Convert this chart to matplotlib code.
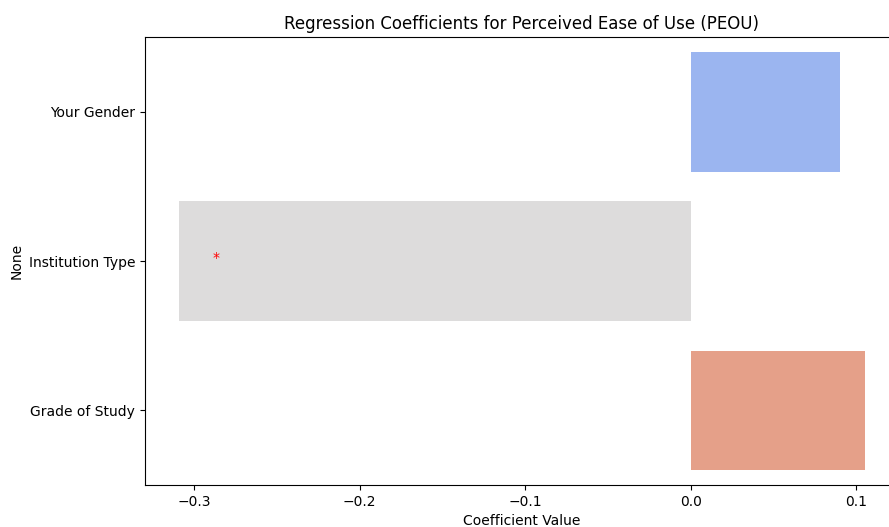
import matplotlib
matplotlib.use("Agg")
from matplotlib import pyplot as plt
import seaborn as sns
import pandas as pd

# regression results for PEOU
features = ["Your Gender", "Institution Type", "Grade of Study"]
coefs = [0.09, -0.309, 0.105]
significant = [False, True, False]


def main():
    df = pd.DataFrame({"feature": features, "coef": coefs})

    fig = plt.figure(figsize=(8.89, 5.27), dpi=100)
    ax = fig.add_axes([0.1631, 0.0795, 0.848, 0.850])

    sns.barplot(data=df, x="coef", y="feature", hue="feature",
                palette="coolwarm", legend=False, ax=ax)

    # mark significant coefficients
    for i, (c, sig) in enumerate(zip(coefs, significant)):
        if sig:
            ax.text(c + 0.022, i - 0.02, "*", color="red", ha="center", va="center", fontsize=10)

    ax.set_title("Regression Coefficients for Perceived Ease of Use (PEOU)")
    ax.set_xlabel("Coefficient Value")
    ax.set_ylabel("None")
    ax.set_xticks([-0.3, -0.2, -0.1, 0.0, 0.1])

    fig.savefig("out.png", dpi=100)


if __name__ == "__main__":
    main()
